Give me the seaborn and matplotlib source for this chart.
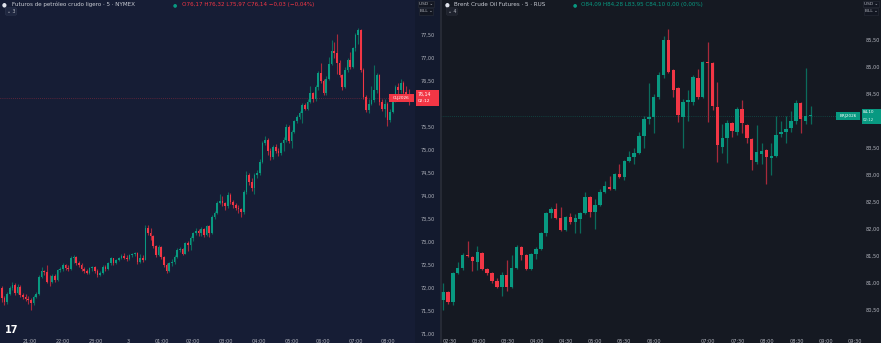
import matplotlib
matplotlib.use("Agg")
import matplotlib.pyplot as plt
import seaborn as sns
import numpy as np
import pandas as pd
from matplotlib.patches import Rectangle

# ---------------- data: left panel (WTI, 5 min) ----------------
left_close = [71.78, 71.70, 71.88, 72.00, 72.07, 71.89, 72.03, 71.85, 71.81, 71.77,
              71.74, 71.67, 71.81, 71.88, 72.25, 72.36, 72.34, 72.14, 72.12, 72.26,
              72.18, 72.39, 72.41, 72.50, 72.43, 72.41, 72.65, 72.68, 72.54, 72.50,
              72.41, 72.36, 72.33, 72.43, 72.45, 72.36, 72.28, 72.32, 72.46, 72.41,
              72.54, 72.65, 72.54, 72.61, 72.65, 72.70, 72.65, 72.62, 72.72, 72.74,
              72.76, 72.57, 72.65, 72.61, 73.30, 73.19, 73.13, 72.91, 72.72, 72.90,
              72.68, 72.50, 72.36, 72.54, 72.57, 72.68, 72.83, 72.84, 72.75, 72.97,
              72.93, 73.08, 73.19, 73.23, 73.19, 73.28, 73.15, 73.35, 73.20, 73.55,
              73.62, 73.85, 73.90, 73.84, 73.78, 74.03, 73.88, 73.80, 73.75, 73.72,
              73.65, 74.08, 74.45, 74.30, 74.17, 74.45, 74.50, 74.75, 75.15, 75.22,
              74.97, 74.85, 75.07, 74.98, 74.93, 75.15, 75.22, 75.51, 75.20, 75.40,
              75.62, 75.72, 75.80, 75.98, 75.90, 76.05, 76.23, 76.10, 76.38, 76.67,
              76.50, 76.23, 76.55, 76.88, 77.15, 77.10, 76.90, 76.63, 76.38, 76.74,
              76.95, 76.81, 77.21, 77.50, 77.61, 76.74, 76.16, 75.87, 76.01, 76.09,
              76.30, 76.63, 76.05, 75.90, 76.01, 75.65, 75.83, 76.09, 76.38, 76.30,
              76.45, 76.25, 76.17, 76.14]
left_first_open = 72.00
left_high = [72.05, 71.82, 71.92, 72.05, 72.12, 72.10, 72.08, 72.06, 71.90, 71.86,
             71.82, 71.78, 71.85, 71.92, 72.28, 72.45, 72.40, 72.50, 72.28, 72.30,
             72.30, 72.42, 72.46, 72.55, 72.52, 72.50, 72.70, 72.72, 72.70, 72.58,
             72.54, 72.46, 72.42, 72.46, 72.48, 72.48, 72.42, 72.38, 72.50, 72.49,
             72.57, 72.68, 72.66, 72.64, 72.68, 72.74, 72.76, 72.72, 72.75, 72.77,
             72.79, 72.78, 72.74, 72.72, 73.38, 73.36, 73.30, 73.16, 72.94, 72.94,
             72.92, 72.70, 72.55, 72.57, 72.62, 72.71, 72.86, 72.90, 72.88, 73.00,
             73.02, 73.12, 73.22, 73.30, 73.28, 73.32, 73.30, 73.38, 73.38, 73.58,
             73.68, 73.90, 74.05, 74.00, 73.88, 74.08, 74.06, 73.92, 73.84, 73.80,
             73.75, 74.12, 74.55, 74.50, 74.40, 74.50, 74.56, 74.80, 75.20, 75.30,
             75.26, 75.05, 75.10, 75.12, 75.05, 75.18, 75.28, 75.56, 75.55, 75.44,
             75.66, 75.76, 75.85, 76.02, 76.02, 76.10, 76.40, 76.26, 76.42, 76.72,
             76.90, 76.55, 76.60, 77.03, 77.40, 77.35, 77.52, 76.95, 76.66, 76.80,
             77.00, 77.12, 77.25, 77.55, 77.65, 77.63, 76.78, 76.20, 76.10, 76.40,
             76.85, 76.68, 76.66, 76.10, 76.10, 76.05, 75.90, 76.14, 76.42, 76.45,
             76.55, 76.50, 76.40, 76.32]
left_low = [71.70, 71.62, 71.66, 71.85, 71.96, 71.85, 71.86, 71.80, 71.76, 71.72,
            71.66, 71.52, 71.62, 71.78, 71.85, 72.22, 72.28, 72.10, 72.05, 72.10,
            72.14, 72.15, 72.35, 72.38, 72.40, 72.38, 72.40, 72.55, 72.50, 72.45,
            72.38, 72.32, 72.30, 72.30, 72.38, 72.33, 72.25, 72.26, 72.30, 72.38,
            72.39, 72.50, 72.50, 72.52, 72.58, 72.62, 72.62, 72.58, 72.60, 72.68,
            72.70, 72.52, 72.55, 72.56, 72.60, 73.15, 73.05, 72.88, 72.68, 72.70,
            72.64, 72.45, 72.32, 72.34, 72.48, 72.52, 72.66, 72.78, 72.72, 72.73,
            72.80, 72.82, 73.02, 73.15, 73.14, 73.14, 73.10, 73.12, 73.10, 73.18,
            73.50, 73.60, 73.82, 73.78, 73.70, 73.75, 73.82, 73.74, 73.70, 73.62,
            73.55, 73.60, 74.05, 74.25, 74.10, 74.05, 74.40, 74.46, 74.72, 75.10,
            74.90, 74.78, 74.80, 74.94, 74.88, 74.90, 74.98, 75.18, 75.15, 75.05,
            75.36, 75.58, 75.68, 75.58, 75.86, 75.88, 76.02, 76.05, 76.06, 76.30,
            76.45, 76.20, 76.20, 76.52, 76.85, 77.00, 76.65, 76.58, 76.30, 76.35,
            76.70, 76.76, 76.78, 77.15, 77.30, 76.70, 76.10, 75.82, 75.80, 75.98,
            76.05, 76.25, 75.98, 75.85, 75.72, 75.52, 75.60, 75.80, 76.05, 76.20,
            76.25, 76.10, 76.15, 75.97]

left_tick_pos = [30, 63, 96, 128, 162, 193, 226, 259, 292, 323, 356, 388]   # pixel x of labels
left_tick_labels = ["21:00", "22:00", "23:00", "3", "01:00", "02:00", "03:00",
                    "04:00", "05:00", "06:00", "07:00", "08:00"]
# 76,00 is hidden behind the last-price tag in the reference
left_yticks = [71.0, 71.5, 72.0, 72.5, 73.0, 73.5, 74.0, 74.5, 75.0, 75.5, 76.5, 77.0, 77.5]

# ---------------- data: right panel (Brent, 5 min) ----------------
right_open = [80.69, 80.83, 80.65, 81.19, 81.28, 81.52, 81.48, 81.39, 81.56, 81.26,
              81.19, 81.04, 80.93, 81.15, 80.93, 81.28, 81.67, 81.52, 81.26, 81.54,
              81.63, 81.93, 82.30, 82.37, 82.20, 81.98, 82.22, 82.13, 82.18, 82.30,
              82.59, 82.31, 82.44, 82.69, 82.78, 82.74, 83.02, 82.96, 83.26, 83.33,
              83.41, 83.72, 84.04, 84.08, 84.44, 84.85, 85.50, 84.94, 84.61, 84.07,
              84.35, 84.35, 84.80, 84.45, 85.10, 85.07, 84.26, 83.52, 83.69, 83.96,
              83.80, 84.22, 83.93, 83.67, 83.24, 83.39, 83.46, 83.31, 83.35, 83.76,
              83.80, 83.87, 84.00, 84.33, 84.00, 84.09]
right_close = [80.83, 80.65, 81.19, 81.28, 81.52, 81.50, 81.41, 81.57, 81.26, 81.19,
               81.04, 80.93, 81.15, 80.93, 81.28, 81.67, 81.52, 81.26, 81.54, 81.63,
               81.93, 82.30, 82.37, 82.20, 81.98, 82.22, 82.13, 82.20, 82.30, 82.59,
               82.31, 82.44, 82.69, 82.80, 82.74, 83.02, 82.96, 83.26, 83.33, 83.41,
               83.72, 84.04, 84.08, 84.44, 84.85, 85.50, 84.90, 84.57, 84.11, 84.35,
               84.38, 84.81, 84.45, 85.09, 85.07, 84.28, 83.56, 83.69, 83.96, 83.81,
               84.22, 83.96, 83.69, 83.28, 83.43, 83.44, 83.33, 83.35, 83.74, 83.80,
               83.85, 84.00, 84.33, 84.04, 84.09, 84.10]
right_high = [81.00, 80.86, 81.20, 81.39, 81.55, 81.78, 81.50, 81.68, 81.58, 81.27,
              81.20, 81.10, 81.20, 81.43, 81.52, 81.70, 81.69, 81.54, 81.56, 81.66,
              81.95, 82.32, 82.40, 82.48, 82.40, 82.24, 82.30, 82.28, 82.32, 82.68,
              82.61, 82.55, 82.75, 82.88, 82.98, 83.04, 83.20, 83.28, 83.45, 83.50,
              83.80, 84.10, 84.70, 84.50, 84.90, 85.57, 85.70, 84.96, 84.63, 84.40,
              84.58, 84.85, 84.96, 85.12, 85.46, 85.09, 84.72, 83.95, 84.02, 83.98,
              84.26, 84.38, 83.95, 83.69, 83.92, 83.60, 83.48, 83.60, 84.10, 84.00,
              84.10, 84.18, 84.38, 84.35, 84.98, 84.28]
right_low = [80.50, 80.62, 80.60, 81.17, 81.25, 81.48, 81.22, 81.24, 81.24, 81.15,
             81.00, 80.90, 80.76, 80.86, 80.91, 81.26, 81.42, 81.24, 81.24, 81.45,
             81.61, 81.87, 82.20, 82.18, 81.96, 81.96, 82.10, 81.93, 81.93, 82.28,
             82.22, 82.00, 82.42, 82.67, 82.72, 82.72, 82.94, 82.90, 83.24, 83.20,
             83.38, 83.50, 83.95, 83.78, 84.40, 84.80, 84.88, 84.45, 83.98, 83.50,
             84.00, 84.30, 84.40, 84.42, 83.98, 84.20, 83.24, 83.40, 83.22, 83.70,
             83.75, 83.78, 83.60, 83.09, 83.20, 83.20, 82.83, 83.00, 83.33, 83.70,
             83.60, 83.80, 83.95, 83.78, 83.95, 83.95]

right_tick_pos = [450, 479, 508, 537, 566, 595, 624, 654, 708, 738, 767, 797, 826, 855]
right_tick_labels = ["02:30", "03:00", "03:30", "04:00", "04:30", "05:00", "05:30",
                     "06:00", "07:00", "07:30", "08:00", "08:30", "09:00", "09:30"]
# 84,00 is hidden behind the last-price tag in the reference
right_yticks = [80.5, 81.0, 81.5, 82.0, 82.5, 83.0, 83.5, 84.5, 85.0, 85.5]

left_last = 76.14
right_last = 84.10

# ---------------- styling ----------------
sns.set_theme(style="dark")
plt.rcParams["font.family"] = ["DejaVu Sans"]

W, H = 881, 343
DPI = 100
fig = plt.figure(figsize=(W / DPI, H / DPI), dpi=DPI)
fig.patch.set_facecolor("#151924")

LEFT_BG = "#161d35"
LEFT_AX_BG = "#131a2e"
RIGHT_BG = "#151922"
UP = "#089981"
DN = "#f23645"
UP_W = "#0b6b5c"
DN_W = "#a82a3b"
TXT = "#b2b5be"


def fx(px):
    return px / W


def fy(py):
    return 1 - py / H


def frect(x, y, w, h, color, z):
    r = Rectangle((fx(x), fy(y + h)), w / W, h / H, transform=fig.transFigure,
                  facecolor=color, edgecolor="none", zorder=z)
    fig.add_artist(r)


# background strips (behind axes)
frect(0, 0, 415, H, LEFT_BG, -10)
frect(415, 0, 25, H, LEFT_AX_BG, -10)
frect(441, 0, 440, H, RIGHT_BG, -10)

bottom_px = 337
ax_l = fig.add_axes([0, fy(bottom_px), fx(415), bottom_px / H])
ax_r = fig.add_axes([fx(441), fy(bottom_px), fx(419), bottom_px / H])


def candles(ax, o, h, l, c, width, lw):
    df = pd.DataFrame({"o": o, "h": h, "l": l, "c": c})
    df["x"] = np.arange(len(df))
    up = df["c"] >= df["o"]
    for mask, col, wcol in [(up, UP, UP_W), (~up, DN, DN_W)]:
        d = df[mask]
        ax.vlines(d["x"], d["l"], d["h"], color=wcol, lw=lw, zorder=2)
        body = (d["c"] - d["o"]).abs().clip(lower=0.012)
        ax.bar(d["x"], body, bottom=np.minimum(d["o"], d["c"]), width=width,
               color=col, edgecolor="none", zorder=3)


left_open = [left_first_open] + left_close[:-1]
candles(ax_l, left_open, left_high, left_low, left_close, 0.62, 0.8)
candles(ax_r, right_open, right_high, right_low, right_close, 0.72, 0.9)

# axis scaling from pixel geometry
lx0, lstep = 1.7, 2.66
rx0, rstep = 443.0, 4.9
ax_l.set_xlim((0 - lx0) / lstep, (415 - lx0) / lstep)
ax_r.set_xlim((441 - rx0) / rstep, (860 - rx0) / rstep)
ax_l.set_ylim(71 - (bottom_px - 334) / 46, 71 + 334 / 46)
ax_r.set_ylim(80.5 - (bottom_px - 310) / 54, 80.5 + 310 / 54)

for ax in (ax_l, ax_r):
    ax.patch.set_alpha(0)
    for s in ax.spines.values():
        s.set_visible(False)
    ax.grid(False)
    ax.yaxis.tick_right()
    ax.tick_params(axis="y", length=0, pad=4, labelsize=3.6, labelcolor=TXT)
    ax.tick_params(axis="x", length=0, pad=1.2, labelsize=3.6, labelcolor=TXT)

ax_l.set_xticks([(p - lx0) / lstep for p in left_tick_pos])
ax_l.set_xticklabels(left_tick_labels)
ax_r.set_xticks([(p - rx0) / rstep for p in right_tick_pos])
ax_r.set_xticklabels(right_tick_labels)
ax_l.set_yticks(left_yticks)
ax_l.set_yticklabels([f"{v:.2f}".replace(".", ",") for v in left_yticks])
ax_r.set_yticks(right_yticks)
ax_r.set_yticklabels([f"{v:.2f}".replace(".", ",") for v in right_yticks])
for lab in ax_l.get_yticklabels() + ax_r.get_yticklabels():
    lab.set_horizontalalignment("left")

# last price lines
ax_l.axhline(left_last, color=DN, lw=0.5, ls=(0, (1, 2)), alpha=0.6, zorder=1)
ax_r.axhline(right_last, color=UP, lw=0.5, ls=(0, (1, 2)), alpha=0.6, zorder=1)

# divider
fig.add_artist(plt.Line2D([fx(440.5), fx(440.5)], [0, 1], transform=fig.transFigure,
                          color="#2a2e39", lw=1.2, zorder=5))

# ---------- header texts ----------
def ftext(px, py, s, **kw):
    kw.setdefault("zorder", 12)
    fig.text(fx(px), fy(py), s, **kw)


ftext(4, 4.5, "\u25CF", color="#e0e3eb", fontsize=4, va="center", ha="center")
ftext(12, 4.5, "Futuros de petróleo crudo ligero · 5 · NYMEX", color="#c9ccd4",
      fontsize=4.1, va="center")
ftext(175, 4.5, "\u25CF", color=UP, fontsize=3.5, va="center", ha="center")
ftext(182, 4.5, "O76,17 H76,32 L75,97 C76,14 −0,03 (−0,04%)", color=DN,
      fontsize=4.1, va="center")
ftext(11, 11.5, "⌄ 3", color=TXT, fontsize=3.4, va="center", ha="center",
      bbox=dict(boxstyle="round,pad=0.25", fc="#1f2740", ec="#2f3850", lw=0.4))

ftext(447, 4.5, "\u25CF", color="#e0e3eb", fontsize=4, va="center", ha="center")
ftext(454, 4.5, "Brent Crude Oil Futures · 5 · RUS", color="#c9ccd4",
      fontsize=4.1, va="center")
ftext(575, 4.5, "\u25CF", color=UP, fontsize=3.5, va="center", ha="center")
ftext(581, 4.5, "O84,09 H84,28 L83,95 C84,10 0,00 (0,00%)", color=UP,
      fontsize=4.1, va="center")
ftext(452, 11.5, "⌄ 4", color=TXT, fontsize=3.4, va="center", ha="center",
      bbox=dict(boxstyle="round,pad=0.25", fc="#1e222d", ec="#2a2e39", lw=0.4))

for x0 in (426, 871):
    ftext(x0, 4, "USD ⌄", color=TXT, fontsize=3.2, va="center", ha="center",
          bbox=dict(boxstyle="square,pad=0.25", fc="#131722", ec="#2a2e39", lw=0.4))
    ftext(x0, 11.5, "BLL ⌄", color=TXT, fontsize=3.2, va="center", ha="center",
          bbox=dict(boxstyle="square,pad=0.25", fc="#131722", ec="#2a2e39", lw=0.4))

# price tags
ly = 334 - (left_last - 71) * 46
frect(416, ly - 8, 23, 16, DN, 10)
ftext(418, ly - 3.5, "76,14", color="white", fontsize=3.4, va="center")
ftext(418, ly + 3.5, "02:12", color="white", fontsize=3.2, va="center")
frect(389, ly - 4, 25, 8, DN, 10)
ftext(401.5, ly, "CLJ2026", color="white", fontsize=3.0, va="center", ha="center")

ry = 310 - (right_last - 80.5) * 54
frect(862, ry - 7, 19, 15, UP, 10)
ftext(863, ry - 3.2, "84,10", color="white", fontsize=3.0, va="center")
ftext(863, ry + 4.0, "02:12", color="#d0f0ea", fontsize=2.8, va="center")
frect(836, ry - 4, 24, 8, UP, 10)
ftext(848, ry, "BRJ2026", color="white", fontsize=3.0, va="center", ha="center")

# TradingView mark
ftext(12, 330, "17", color="white", fontsize=7, fontweight="bold", va="center", ha="center")

fig.savefig("out.png", dpi=DPI, facecolor=fig.get_facecolor())
